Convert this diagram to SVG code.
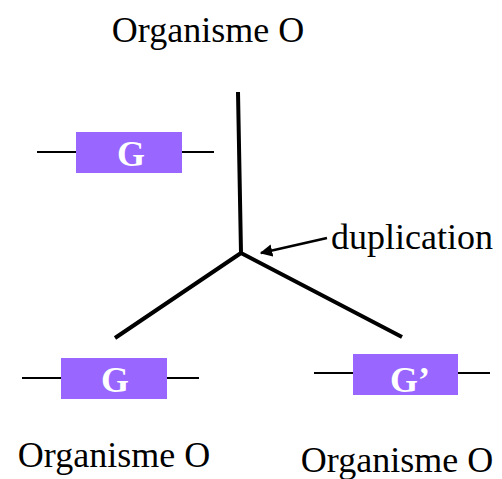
<svg xmlns="http://www.w3.org/2000/svg" width="502" height="479" viewBox="0 0 502 479">
<defs>
<style>
.t{font-family:"Liberation Serif","Times New Roman",serif;font-size:36px;fill:#000}
.g{font-family:"Liberation Serif","Times New Roman",serif;font-size:36px;font-weight:bold;fill:#fff;text-anchor:middle}
.box{fill:#9966FF}
.ln{stroke:#000;stroke-width:2}
.br{stroke:#000;stroke-width:4;fill:none}
</style>
<marker id="ah" viewBox="0 0 10 10" refX="9" refY="5" markerWidth="5" markerHeight="5" orient="auto" markerUnits="strokeWidth">
<path d="M0,0 L10,5 L0,10 z" fill="#000"/>
</marker>
</defs>
<g id="title"><text class="t" x="208" y="42" text-anchor="middle">Organisme O</text></g>
<g id="connectors">
<path class="br" d="M238,92 L241,253 M241,253 L115,338 M241,253 L402,337"/>
<line x1="327" y1="238" x2="261" y2="253" stroke="#000" stroke-width="2.5" marker-end="url(#ah)"/>
</g>
<g id="gene-top">
<line class="ln" x1="37" y1="152" x2="214" y2="152"/>
<rect class="box" x="76" y="132" width="106" height="41"/>
<text class="g" x="131" y="166">G</text>
</g>
<g id="gene-left">
<line class="ln" x1="22" y1="378" x2="199" y2="378"/>
<rect class="box" x="61" y="358" width="106" height="41"/>
<text class="g" x="115" y="392">G</text>
</g>
<g id="gene-right">
<line class="ln" x1="314" y1="373" x2="490" y2="373"/>
<rect class="box" x="353" y="354" width="105" height="41"/>
<text class="g" x="410" y="392">G’</text>
</g>
<g id="label-dup"><text class="t" x="331" y="249">duplication</text></g>
<g id="label-left"><text class="t" x="114" y="467" text-anchor="middle">Organisme O</text></g>
<g id="label-right"><text class="t" x="397" y="472" text-anchor="middle">Organisme O</text></g>
</svg>
